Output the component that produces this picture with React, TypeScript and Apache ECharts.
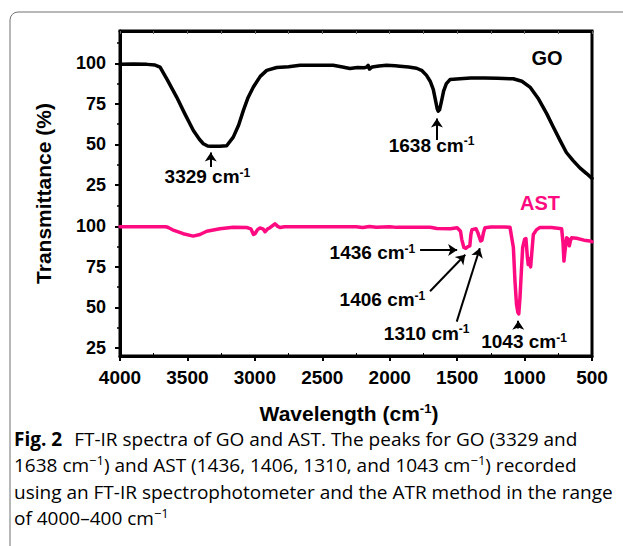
import React, { useEffect, useRef } from 'react';
import * as echarts from 'echarts';

// ---- data (wavenumber cm-1, transmittance %) ----
const goSpectrum: [number, number][] = [
  [4000, 99.5], [3900, 99.6], [3800, 99.4], [3740, 99], [3703, 97.7], [3650, 90], [3580, 79.2],
  [3520, 69], [3456, 58.6], [3410, 53], [3382, 50.4], [3350, 49], [3329, 48.8], [3260, 48.8],
  [3209, 49.2], [3160, 54.5], [3120, 62], [3085, 71], [3050, 79], [3011, 85.4], [2960, 92],
  [2912, 95.7], [2838, 97.5], [2750, 98], [2665, 98.8], [2550, 98.8], [2420, 98.8], [2350, 97.8],
  [2295, 96.8], [2240, 97.5], [2190, 97.3], [2171, 97.7], [2160, 98.8], [2150, 96.5], [2130, 97.8],
  [2080, 98.4], [2023, 98.8], [1960, 98.6], [1924, 98.3], [1860, 97.8], [1801, 97], [1760, 95.5],
  [1727, 92.6], [1700, 89], [1677, 84], [1660, 77], [1648, 72], [1640, 70.5], [1630, 71.5],
  [1615, 77], [1600, 83], [1580, 87.5], [1553, 90], [1479, 90.5], [1400, 91], [1300, 91],
  [1200, 90.8], [1084, 90.5], [1020, 89], [960, 85.4], [900, 78.5], [836, 69], [789, 61],
  [737, 52.5], [690, 45], [640, 40], [590, 35.5], [540, 32], [500, 29],
];

const astSpectrum: [number, number][] = [
  [4000, 99.8], [3800, 99.8], [3660, 99.8], [3642, 99.3], [3600, 97.5], [3531, 95.5], [3457, 94],
  [3407, 95], [3357, 97], [3259, 98.5], [3160, 99.5], [3060, 99.3], [3030, 98.5], [3010, 95],
  [2999, 95.5], [2980, 98], [2962, 99], [2940, 98.5], [2925, 96.7], [2905, 98.5], [2888, 99.2],
  [2851, 101.6], [2830, 100], [2814, 99.3], [2780, 99.8], [2600, 99.8], [2400, 99.8], [2250, 99.8],
  [2200, 99.3], [2150, 100], [2100, 99.5], [2000, 99.8], [1950, 99.4], [1700, 99.5], [1650, 98.7],
  [1550, 98.5], [1500, 99.2], [1475, 97], [1466, 92], [1450, 87], [1436, 86.5], [1420, 87.5],
  [1406, 88], [1398, 95], [1390, 98], [1360, 98.5], [1346, 96], [1326, 91], [1316, 91.5],
  [1305, 96], [1294, 99.2], [1250, 99.6], [1150, 99.6], [1108, 99.4], [1083, 87], [1071, 66],
  [1060, 52], [1050, 47], [1043, 46], [1034, 56], [1024, 72], [1014, 87], [1000, 92], [990, 92.5],
  [980, 82], [973, 76.5], [965, 80], [955, 75], [945, 85], [935, 95], [911, 98], [886, 99.3],
  [800, 99.3], [725, 98.5], [715, 90], [708, 78.6], [700, 85], [688, 93], [675, 92], [668, 88],
  [660, 91], [651, 93], [614, 92.7], [560, 91.5], [515, 91], [500, 90.5],
];

const yTickValues = [25, 50, 75, 100];
const yMinorValues = [37.5, 62.5, 87.5, 112.5];
const xMinorValues = [750, 1250, 1750, 2250, 2750, 3250, 3750];

// peak annotations: label, arrow tail, arrow head, label centre (data coords)
const goNotes = [
  { label: '3329', from: [3327, 36], to: [3327, 45], at: [3352, 30] },
  { label: '1638', from: [1650, 52.7], to: [1650, 66], at: [1690, 49.4] },
];
const astNotes = [
  { label: '1436', from: [1775, 85.5], to: [1500, 85.5], at: [2128, 83.6] },
  { label: '1406', from: [1701, 60], to: [1440, 82.5], at: [2054, 54.6] },
  { label: '1310', from: [1503, 41.2], to: [1332, 86.5], at: [1726, 34] },
  { label: '1043', from: [1047, 37], to: [1047, 41.8], at: [1004, 28.8] },
];
const goName = { text: 'GO', at: [834, 103.3] };
const astName = { text: 'AST', at: [886, 114.6] };

const FONT = 'Liberation Sans';
const CAP_FONT = 'Open Sans';
const PINK = '#ff0a80';
const CAP_COLOR = '#231f20';

const noteRich = {
  m: { fontSize: 19, fontWeight: 'bold', color: '#000', fontFamily: FONT },
  s: { fontSize: 12, fontWeight: 'bold', color: '#000', fontFamily: FONT, padding: [0, 0, 8, 0] },
};

function buildMarks(notes: typeof goNotes, name: { text: string; at: number[] }, nameColor: string) {
  return {
    markLine: {
      silent: true,
      symbol: ['none', 'arrow'],
      symbolSize: 9,
      label: { show: false },
      emphasis: { disabled: true },
      lineStyle: { color: '#000', width: 2, type: 'solid' },
      data: notes.map((n) => [{ coord: n.from }, { coord: n.to }]),
    },
    markPoint: {
      silent: true,
      symbol: 'circle',
      symbolSize: 1,
      itemStyle: { color: 'rgba(0,0,0,0)' },
      data: [
        ...notes.map((n) => ({
          coord: n.at,
          label: { show: true, position: 'inside', formatter: `{m|${n.label} cm}{s|-1}`, rich: noteRich },
        })),
        {
          coord: name.at,
          label: {
            show: true,
            position: 'inside',
            formatter: name.text,
            fontSize: 20,
            fontWeight: 'bold',
            color: nameColor,
            fontFamily: FONT,
          },
        },
      ],
    },
  };
}

const captionLines = [
  '{b|Fig. 2}{n|FT-IR spectra of GO and AST. The peaks for GO (3329 and}',
  '{n|1638 cm}{s|\u22121}{n|) and AST (1436, 1406, 1310, and 1043 cm}{s|\u22121}{n|) recorded}',
  '{n|using an FT-IR spectrophotometer and the ATR method in the range}',
  '{n|of 4000\u2013400 cm}{s|\u22121}',
];
const captionRich = {
  n: { fontSize: 19, fontFamily: CAP_FONT, color: CAP_COLOR },
  b: { fontSize: 19, fontFamily: CAP_FONT, fontWeight: 'bold', color: CAP_COLOR, padding: [0, 12, 0, 0] },
  s: { fontSize: 13, fontFamily: CAP_FONT, color: CAP_COLOR, padding: [0, 0, 10, 0] },
};

const blackLine = { color: '#000', width: 3 };

export default function App() {
  const ref = useRef<HTMLDivElement>(null);
  useEffect(() => {
    if (!ref.current) return;
    const chart = echarts.init(ref.current, undefined, { renderer: 'svg' });
    const yMain = (gridIndex: number) => ({
      gridIndex,
      type: 'value',
      min: 20,
      max: 120,
      position: 'left',
      axisLine: { show: true, onZero: false, lineStyle: blackLine },
      axisTick: { show: true, length: 5, customValues: yTickValues, lineStyle: { color: '#000', width: 2 } },
      axisLabel: { customValues: yTickValues, fontSize: 18, fontWeight: 'bold', color: '#000', fontFamily: FONT, margin: 14 },
      splitLine: { show: false },
    });
    const yMinor = (gridIndex: number) => ({
      gridIndex,
      type: 'value',
      min: 20,
      max: 120,
      position: 'left',
      axisLine: { show: false },
      axisTick: { show: true, length: 3, customValues: yMinorValues, lineStyle: { color: '#000', width: 1.5 } },
      axisLabel: { show: false },
      splitLine: { show: false },
    });
    chart.setOption({
      animation: false,
      backgroundColor: '#fff',
      grid: [
        { left: 120, top: 31, width: 472, height: 162, show: false },
        { left: 120, top: 194, width: 472, height: 162, show: false },
        { left: 120, top: 31, width: 472, height: 325, show: true, borderColor: '#000', borderWidth: 3, backgroundColor: 'transparent' },
      ],
      xAxis: [
        {
          gridIndex: 0, type: 'value', min: 500, max: 4000, interval: 500, inverse: true, position: 'top',
          axisLine: { onZero: false, lineStyle: blackLine },
          axisTick: { inside: true, length: 3, lineStyle: { color: '#666', width: 1 } },
          minorTick: { show: true, splitNumber: 2, length: 3, lineStyle: { color: '#666', width: 1 } },
          axisLabel: { show: false },
          splitLine: { show: false },
        },
        {
          gridIndex: 1, type: 'value', min: 500, max: 4000, interval: 500, inverse: true, position: 'bottom',
          axisLine: { onZero: false, lineStyle: blackLine },
          axisTick: { length: 5, lineStyle: { color: '#000', width: 2 } },
          axisLabel: {
            fontSize: 19, fontWeight: 'bold', color: '#000', fontFamily: FONT, margin: 12,
            formatter: (v: number) => String(v),
          },
          splitLine: { show: false },
          name: '{m|Wavelength (cm}{s|-1}{m|)}',
          nameLocation: 'middle',
          nameGap: 46,
          nameTextStyle: {
            padding: [0, 14, 0, 0],
            rich: {
              m: { fontSize: 21, fontWeight: 'bold', color: '#000', fontFamily: FONT },
              s: { fontSize: 13, fontWeight: 'bold', color: '#000', fontFamily: FONT, padding: [0, 0, 9, 0] },
            },
          },
        },
        {
          gridIndex: 1, type: 'value', min: 500, max: 4000, inverse: true, position: 'bottom',
          axisLine: { show: false },
          axisTick: { show: true, inside: true, length: 3, customValues: xMinorValues, lineStyle: { color: '#000', width: 1 } },
          axisLabel: { show: false },
          splitLine: { show: false },
        },
        { gridIndex: 2, type: 'value', min: 0, max: 1, show: false },
      ],
      yAxis: [
        yMain(0),
        yMain(1),
        yMinor(0),
        yMinor(1),
        {
          gridIndex: 2, type: 'value', min: 0, max: 1,
          axisLine: { show: false }, axisTick: { show: false }, axisLabel: { show: false }, splitLine: { show: false },
          name: 'Transmittance (%)',
          nameLocation: 'middle',
          nameGap: 66,
          nameTextStyle: { fontSize: 21, fontWeight: 'bold', color: '#000', fontFamily: FONT },
        },
      ],
      series: [
        {
          type: 'line', name: 'GO', xAxisIndex: 0, yAxisIndex: 0, data: goSpectrum,
          symbol: 'none', showSymbol: false, silent: true,
          lineStyle: { color: '#000', width: 3.5, join: 'round', cap: 'round' },
          itemStyle: { color: '#000' },
          ...buildMarks(goNotes, goName, '#000'),
        },
        {
          type: 'line', name: 'AST', xAxisIndex: 1, yAxisIndex: 1, data: astSpectrum,
          symbol: 'none', showSymbol: false, silent: true,
          lineStyle: { color: PINK, width: 3.5, join: 'round', cap: 'round' },
          itemStyle: { color: PINK },
          ...buildMarks(astNotes, astName, PINK),
        },
      ],
      graphic: [
        {
          type: 'rect', silent: true, z: -1,
          shape: { x: 10, y: 12, width: 700, height: 620, r: 8 },
          style: { fill: 'none', stroke: '#707070', lineWidth: 1 },
        },
        ...captionLines.map((t, i) => ({
          type: 'text', silent: true,
          x: 14, y: 439 + i * 26.3,
          style: { text: t, rich: captionRich, verticalAlign: 'middle', align: 'left' },
        })),
      ],
    });
    return () => chart.dispose();
  }, []);
  return (
    <div
      ref={ref}
      style={{ position: 'fixed', left: 0, top: 0, width: 623, height: 546, background: '#fff' }}
    />
  );
}
